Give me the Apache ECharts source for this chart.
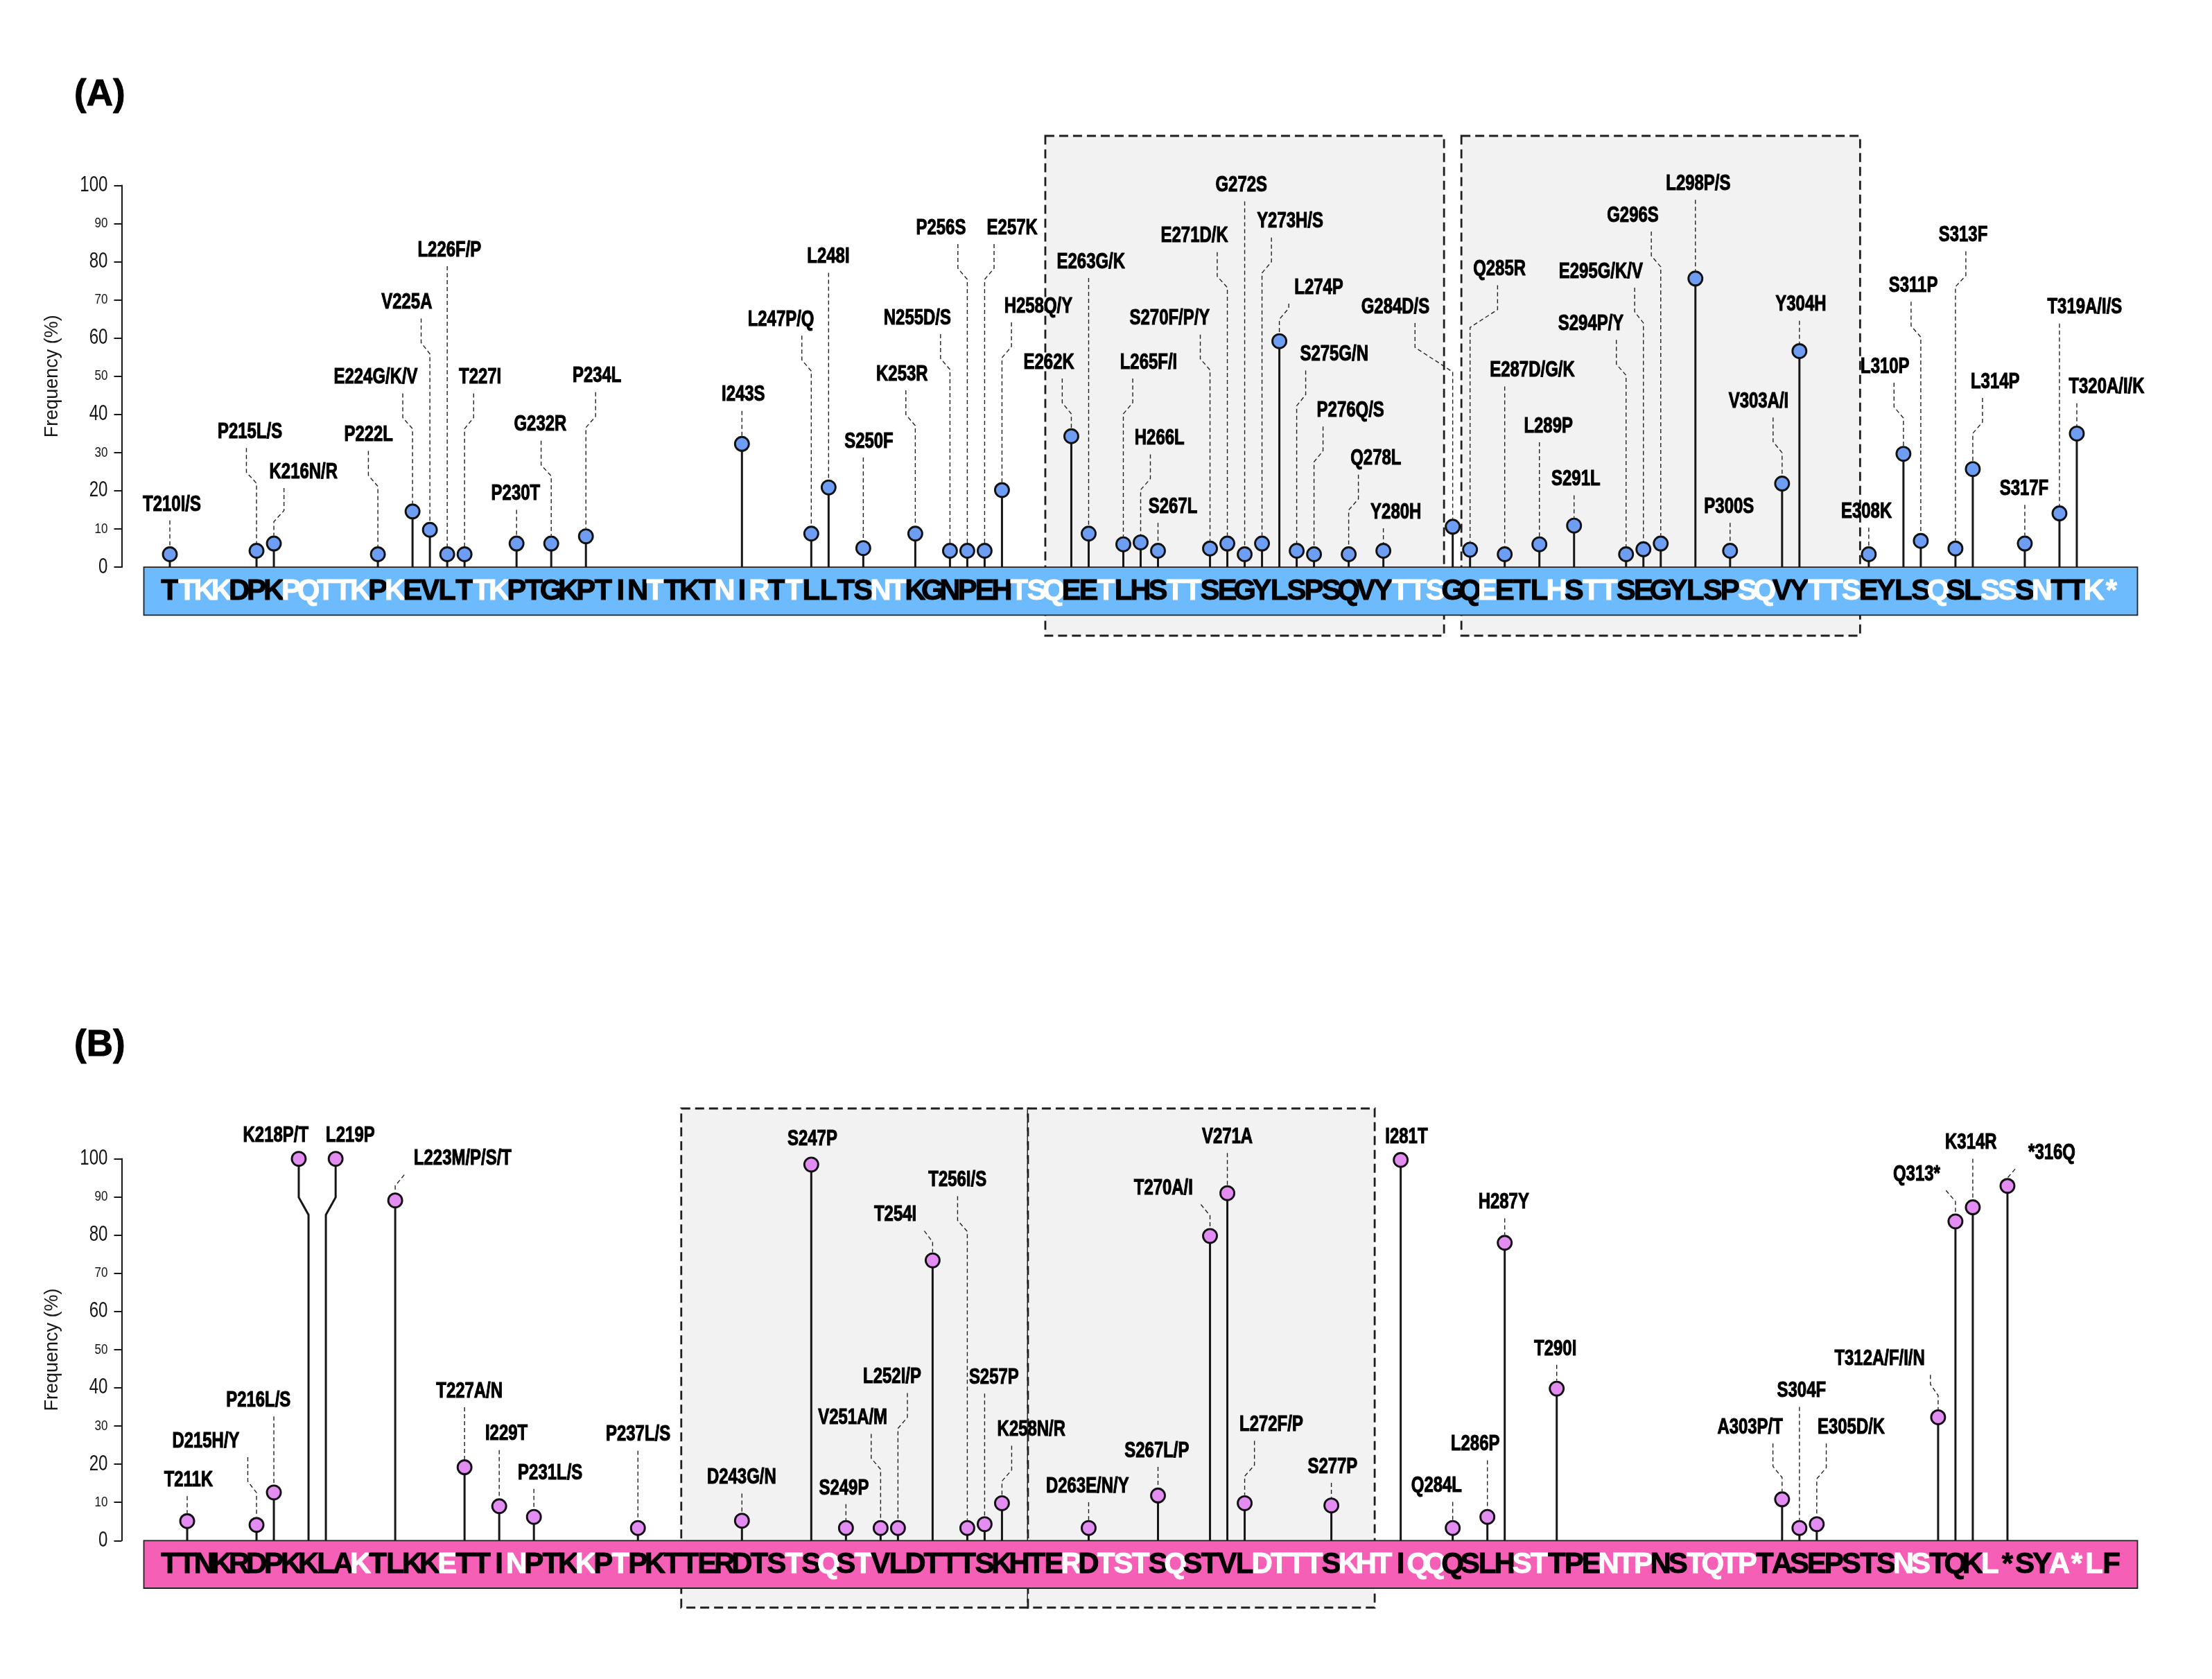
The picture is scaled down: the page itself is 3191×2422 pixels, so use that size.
<!DOCTYPE html>
<html><head><meta charset="utf-8">
<script src="https://cdn.jsdelivr.net/npm/echarts@6/dist/echarts.min.js"></script>
<style>html,body{margin:0;padding:0;background:#fff}#c{width:3191px;height:2422px}</style>
</head><body><div id="c"></div>
<script>
// ---------------- DATA ----------------
const seqStart = 210;
const seqA = "TTKKDPKPQTTKPKEVLTTKPTGKPTINTTKTNIRTTLLTSNTKGNPEHTSQEETLHSTTSEGYLSPSQVYTTSGQEETLHSTTSEGYLSPSQVYTTSEYLSQSLSSSNTTK*";
const seqB = "TTNKRDPKKLAKTLKKETTINPTKKPTPKTTERDTSTSQSTVLDTTTSKHTERDTSTSQSTVLDTTTSKHTIQQQSLHSTTPENTPNSTQTPTASEPSTSNSTQKL*SYA*LF";
const whiteA = [211,212,213,217,218,219,220,221,223,228,229,238,242,244,246,251,252,259,260,261,264,268,269,281,282,283,286,290,292,293,301,302,305,306,307,312,315,316,318,321,322];
const whiteB = [221,226,230,234,236,246,248,250,262,264,265,266,268,273,274,275,276,278,279,280,282,283,288,289,293,294,295,298,299,300,301,310,311,315,319,320,321];
const repeatsA = [[261,283],[285,307]];
const repeatsB = [[240,259],[260,279]];
const yTicks = [0,10,20,30,40,50,60,70,80,90,100];

const mutPosA = [210,215,216,222,224,225,226,227,230,232,234,243,247,248,250,253,255,256,257,258,262,263,265,266,267,270,271,272,273,274,275,276,278,280,284,285,287,289,291,294,295,296,298,300,303,304,308,310,311,313,314,317,319,320];
const mutFreqA = [3.4,4.3,6.2,3.4,14.6,9.8,3.4,3.4,6.2,6.2,8.1,32.3,8.8,20.9,5.0,8.8,4.3,4.3,4.3,20.2,34.3,8.8,6.0,6.5,4.3,4.9,6.2,3.4,6.2,59.2,4.3,3.4,3.4,4.3,10.6,4.6,3.4,6.0,10.9,3.4,4.7,6.2,75.6,4.3,21.9,56.6,3.4,29.7,6.9,4.9,25.7,6.2,14.1,35.0];
const mutNameA = ['T210I/S','P215L/S','K216N/R','P222L','E224G/K/V','V225A','L226F/P','T227I','P230T','G232R','P234L','I243S','L247P/Q','L248I','S250F','K253R','N255D/S','P256S','E257K','H258Q/Y','E262K','E263G/K','L265F/I','H266L','S267L','S270F/P/Y','E271D/K','G272S','Y273H/S','L274P','S275G/N','P276Q/S','Q278L','Y280H','G284D/S','Q285R','E287D/G/K','L289P','S291L','S294P/Y','E295G/K/V','G296S','L298P/S','P300S','V303A/I','Y304H','E308K','L310P','S311P','S313F','L314P','S317F','T319A/I/S','T320A/I/K'];

const mutPosB = [211,215,216,218,219,223,227,229,231,237,243,247,249,251,252,254,256,257,258,263,267,270,271,272,277,281,284,286,287,290,303,304,305,312,313,314,316];
const mutFreqB = [5.1,4.1,12.6,100,100,89.1,19.2,9.0,6.2,3.3,5.2,98.5,3.3,3.3,3.3,73.4,3.3,4.3,9.8,3.3,11.8,79.8,91.0,9.8,9.2,99.7,3.3,6.2,78.0,39.8,10.8,3.3,4.3,32.3,83.6,87.3,92.9];
const mutNameB = ['T211K','D215H/Y','P216L/S','K218P/T','L219P','L223M/P/S/T','T227A/N','I229T','P231L/S','P237L/S','D243G/N','S247P','S249P','V251A/M','L252I/P','T254I','T256I/S','S257P','K258N/R','D263E/N/Y','S267L/P','T270A/I','V271A','L272F/P','S277P','I281T','Q284L','L286P','H287Y','T290I','A303P/T','S304F','E305D/K','T312A/F/I/N','Q313*','K314R','*316Q'];

// ---------------- LABEL LAYOUT (placement of annotation text) ----------------
const labelLevelA = [16.4,35.4,24.9,34.6,49.7,69.3,83.0,49.7,19.2,37.3,50.0,45.1,64.8,81.3,32.9,50.5,65.2,88.8,88.8,68.3,53.6,79.9,53.6,33.7,15.8,65.1,86.7,100.0,90.5,73.2,55.7,41.0,28.4,14.4,68.1,78.0,51.5,36.9,23.0,63.7,77.4,92.1,100.4,15.8,43.4,68.7,14.5,52.5,73.7,86.9,48.5,20.5,68.0,47.1];
const labelDxA = [3,-9.5,42.7,-13.4,-53.1,-33.3,3.2,22.5,-1.3,-15.8,16,2,-43.8,-0.4,8.1,-19.1,-47,-38,39.8,52.5,-32.3,3.3,36.5,27.2,21.6,-58.1,-47.4,-4.8,40.5,57,54.1,52.6,39.2,18.1,-82.7,42.4,39.8,13,2.6,-50.7,-61.4,-40.3,4.1,-1.5,-33.8,2.1,-3.3,-26.6,-10.8,11.1,32.3,-1,36.4,43];
const leaderDxA = [0,-14.6,14.6,-13.7,-14.1,-12.6,0,13.1,0,-14.6,14,0,-13.6,0,0,-13.6,-13.6,-13.6,13.6,13.7,-13.1,0,13.6,14,0,-14,-14.6,0,13.6,13.6,13,13,14,0,-54.4,39.7,0,0,0,-14,-12.6,-13.6,0,0,-13,0,0,-13.6,-14,15,14,0,0,0];

const labelLevelB = [15.8,26.0,36.7,106.1,106.1,100.0,39.1,27.9,17.7,27.7,16.5,105.2,13.7,32.1,42.8,85.3,94.4,42.7,29.0,14.2,23.5,92.2,105.7,30.3,19.3,105.7,14.3,25.2,88.6,50.2,29.6,39.2,29.6,47.6,95.9,104.2,101.5];
const labelDxB = [1.9,-73.1,-22.3,-47.3,35.3,97.3,7,10.4,23.5,0.3,-0.5,1.6,-2.9,-40.2,-8.4,-53.8,-14.2,13.4,42.4,-1.7,-1.6,-67.2,0,38.4,1.8,8.3,-23.3,-17.5,-1.4,-2,-46.2,3,49.7,-84.3,-56,-2.6,64.1];
const leaderDxB = [0,-12.6,0,0,0,13.1,0,0,0,0,0,0,0,-13.6,13.6,-12,-14,0,14,0,0,-13.1,0,14.1,0,0,0,0,0,0,-13.2,0,13.7,-11.1,-13.6,0,11.1];
const circleShiftB = [0,0,0,-14.1,14.1,0,0,0,0,0,0,0,0,0,0,0,0,0,0,0,0,0,0,0,0,0,0,0,0,0,0,0,0,0,0,0,0];

// ---------------- STYLE / LAYOUT ----------------
const SANS = '"Liberation Sans", Arial, sans-serif';
const NARROW = '"Liberation Sans Narrow", "Arial Narrow", "Liberation Sans", sans-serif';
const panels = [
  {title:'(A)', titleY:137, boxTop:196, boxBottom:917, plotTop:267.4, plotBottom:818.2, seqBottom:887.3,
   seq:seqA, white:whiteA, repeats:repeatsA, pos:mutPosA, freq:mutFreqA, names:mutNameA,
   lvl:labelLevelA, ldx:labelDxA, kdx:leaderDxA, shift:null,
   barColor:'#6dbafc', dotColor:'#6e9ef4'},
  {title:'(B)', titleY:1508, boxTop:1599, boxBottom:2319, plotTop:1671.6, plotBottom:2222.3, seqBottom:2291,
   seq:seqB, white:whiteB, repeats:repeatsB, pos:mutPosB, freq:mutFreqB, names:mutNameB,
   lvl:labelLevelB, ldx:labelDxB, kdx:leaderDxB, shift:circleShiftB,
   barColor:'#f65fb6', dotColor:'#e38cf2'}
];
const LEFT = 207.5, WIDTH = 2876, AXIS_OFFSET = 32;
const INK = '#161616';

const grid = [], xAxis = [], yAxis = [], series = [], graphic = [];
panels.forEach((P, p) => {
  const xMin = seqStart - 1.5, xMax = seqStart + P.seq.length + 0.5;
  const g0 = grid.length;
  grid.push({left:LEFT, width:WIDTH, top:P.boxTop, height:P.boxBottom-P.boxTop, outerBoundsMode:'none'});
  grid.push({left:LEFT, width:WIDTH, top:P.plotTop, height:P.plotBottom-P.plotTop, outerBoundsMode:'none'});
  grid.push({left:LEFT, width:WIDTH, top:P.plotBottom, height:P.seqBottom-P.plotBottom, outerBoundsMode:'none'});
  for (let k = 0; k < 3; k++) xAxis.push({gridIndex:g0+k, type:'value', min:xMin, max:xMax, show:false});
  yAxis.push({gridIndex:g0, type:'value', min:0, max:1, show:false});
  yAxis.push({gridIndex:g0+1, type:'value', min:0, max:100, interval:10, offset:AXIS_OFFSET,
    name:'Frequency (%)', nameLocation:'middle', nameRotate:90, nameGap:86,
    nameTextStyle:{fontFamily:NARROW, fontSize:27, color:INK},
    axisLine:{show:true, lineStyle:{color:INK, width:2}},
    axisTick:{show:true, length:11, lineStyle:{color:INK, width:2}},
    splitLine:{show:false},
    axisLabel:{show:false}
  });
  yAxis.push({gridIndex:g0+2, type:'value', min:0, max:1, show:false});

  // y tick labels (condensed digits, alternating sizes)
  series.push({type:'custom', xAxisIndex:g0+1, yAxisIndex:g0+1, z:6, silent:true,
    data:yTicks.map(v => [xMin, v]),
    renderItem:(params, api) => {
      const c = api.coord([api.value(0), api.value(1)]);
      const v = api.value(1), big = v % 20 === 0;
      return {type:'text', x:c[0] - AXIS_OFFSET - 20, y:c[1], scaleX: big ? 0.79 : 0.83,
        style:{text:String(v), fontFamily:SANS, fontSize: big ? 30.5 : 20.5, fill:INK,
          align:'right', verticalAlign:'middle'}};
    }});
  // repeat regions (grey dashed boxes)
  series.push({type:'custom', xAxisIndex:g0, yAxisIndex:g0, z:1, silent:true,
    data:P.repeats.map(([s,e]) => [s-0.5, e+0.5]),
    renderItem:(params, api) => {
      const a = api.coord([api.value(0), 1]), b = api.coord([api.value(1), 0]);
      return {type:'rect', shape:{x:a[0], y:a[1], width:b[0]-a[0], height:b[1]-a[1]},
        style:{fill:'#f2f2f2', stroke:'#1e1e1e', lineWidth:2.8, lineDash:[13,7]}};
    }});
  // sequence bar
  series.push({type:'custom', xAxisIndex:g0+2, yAxisIndex:g0+2, z:3, silent:true,
    data:[[xMin, xMax]],
    renderItem:(params, api) => {
      const a = api.coord([api.value(0), 1]), b = api.coord([api.value(1), 0]);
      return {type:'rect', shape:{x:a[0], y:a[1], width:b[0]-a[0], height:b[1]-a[1]},
        style:{fill:P.barColor, stroke:'#222', lineWidth:1.8}};
    }});
  // sequence letters
  series.push({type:'custom', xAxisIndex:g0+2, yAxisIndex:g0+2, z:5, silent:true,
    data:P.seq.split('').map((ch, i) => [seqStart+i, 0.5, P.white.includes(seqStart+i) ? 1 : 0]),
    renderItem:(params, api) => {
      const c = api.coord([api.value(0), api.value(1)]);
      const col = api.value(2) ? '#ffffff' : '#000000';
      return {type:'text', x:c[0], y:c[1]+1,
        style:{text:P.seq[params.dataIndex], fontFamily:SANS, fontWeight:'bold', fontSize:42,
          fill:col, stroke:col, lineWidth:0.9, align:'center', verticalAlign:'middle'}};
    }});
  // lollipops with labels
  series.push({type:'custom', xAxisIndex:g0+1, yAxisIndex:g0+1, z:6, silent:true,
    data:P.pos.map((r, i) => [r, P.freq[i]]),
    renderItem:(params, api) => {
      const i = params.dataIndex;
      const base = api.coord([api.value(0), 0]);
      const top = api.coord([api.value(0), api.value(1)]);
      const shift = P.shift ? P.shift[i] : 0;
      const sx = base[0], cx = sx + shift, cy = top[1];
      const R = 10, stem = {stroke:INK, lineWidth:3, fill:'none'};
      const ch = [];
      if (shift) {
        ch.push({type:'polyline', shape:{points:[[sx, base[1]], [sx, cy+80.8], [cx, cy+55.6], [cx, cy]]}, style:stem});
      } else {
        ch.push({type:'line', shape:{x1:sx, y1:base[1], x2:sx, y2:cy}, style:stem});
      }
      const lx = sx + P.ldx[i];
      const ly = api.coord([api.value(0), P.lvl[i]])[1];
      const y0 = ly + 23, y1 = cy - R - 1.5, L = y1 - y0;
      if (L > 8) {
        const kd = P.kdx[i];
        let pts;
        if (Math.abs(kd) < 0.5) pts = [[cx, y0], [cx, y1]];
        else {
          const d = Math.min(Math.max(16, Math.abs(kd) * 0.65), L);
          const t = Math.max(0, Math.min(35, L - d - 20));
          pts = [[cx+kd, y0], [cx+kd, y0+t], [cx, y0+t+d], [cx, y1]];
        }
        ch.push({type:'polyline', shape:{points:pts}, style:{stroke:'#222', lineWidth:1.4, lineDash:[6,4], fill:'none'}});
      }
      ch.push({type:'circle', shape:{cx:cx, cy:cy, r:R}, style:{fill:P.dotColor, stroke:'#111', lineWidth:2.9}});
      ch.push({type:'text', x:lx, y:ly, scaleX:0.76,
        style:{text:P.names[i], fontFamily:SANS, fontWeight:'bold', fontSize:31.5, fill:'#000',
          stroke:'#000', lineWidth:1.1, align:'center', verticalAlign:'middle'}});
      return {type:'group', children:ch};
    }});
  graphic.push({type:'text', x:107, y:P.titleY,
    style:{text:P.title, fontFamily:SANS, fontWeight:'bold', fontSize:53, fill:'#000', stroke:'#000', lineWidth:1,
      align:'left', verticalAlign:'middle'}});
});

const chart = echarts.init(document.getElementById('c'), null, {renderer:'canvas', width:3191, height:2422});
chart.setOption({backgroundColor:'#ffffff', animation:false, grid, xAxis, yAxis, series, graphic});
</script></body></html>
